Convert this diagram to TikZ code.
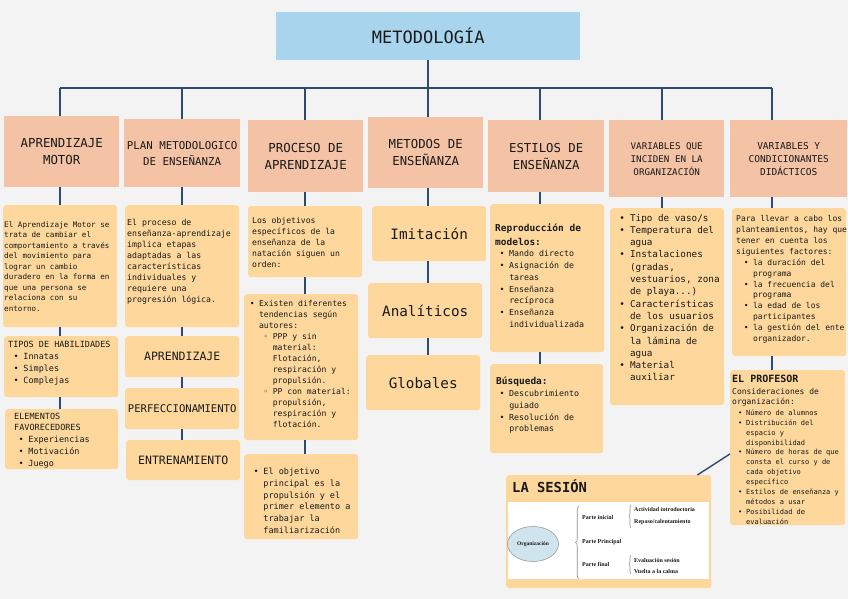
\documentclass[tikz,border=0pt]{standalone}
\usepackage{fontspec}
\setmainfont{DejaVu Sans Mono}
\newfontfamily\mono{DejaVu Sans Mono}
\newfontfamily\tnr{Liberation Serif}
\usetikzlibrary{decorations.pathreplacing,shapes.geometric,calc}
\definecolor{bgc}{HTML}{F3F3F3}
\definecolor{hdrc}{HTML}{F4C3A5}
\definecolor{boxc}{HTML}{FDD79B}
\definecolor{titc}{HTML}{A8D4EE}
\definecolor{linec}{HTML}{2E4A6F}
\definecolor{txtc}{HTML}{1A1A1A}
\definecolor{ellc}{HTML}{CFE4EC}
\definecolor{brcc}{HTML}{8E8E8E}
\newcommand\fs[2]{\fontsize{#1}{#2}\selectfont}
\newcommand\chs[1]{\hspace*{#1em}}
\newcommand\bu{\makebox[1.15em][l]{\textbullet}}
\newcommand\sbu{\makebox[1.15em][l]{◦}}
\begin{document}
\begin{tikzpicture}[x=1pt,y=-1pt,
  hdr/.style={fill=hdrc, inner sep=0pt, anchor=north west, text=txtc, align=center},
  bx/.style={fill=boxc, rounded corners=3pt, inner sep=0pt, anchor=north west, text=txtc},
  txt/.style={anchor=north west, inner sep=0pt, align=left, text=txtc},
  ltxt/.style={anchor=base west, inner sep=0pt, text=txtc},
  conn/.style={draw=linec, line width=1.8pt},
  brc/.style={draw=brcc, line width=0.6pt, decorate},
  sest/.style={anchor=base west, inner sep=0pt, text=txtc, font={\tnr\bfseries\fs{6}{7}}}]
\useasboundingbox (0,0) rectangle (848,599);
\fill[bgc] (0,0) rectangle (848,599);

% title
\node[fill=titc, minimum width=304pt, minimum height=48pt, anchor=north west, inner sep=0pt,
      font={\mono\fs{17}{20}}, text=txtc] (title) at (276,12) {METODOLOGÍA};

% headers
\node[hdr, minimum width=115pt, minimum height=71pt, font={\mono\fs{12.4}{17}}] (h1) at (4,116) {APRENDIZAJE\\MOTOR};
\node[hdr, minimum width=116pt, minimum height=68pt, font={\mono\fs{10.8}{16}}] (h2) at (124,119) {PLAN METODOLOGICO\\DE ENSEÑANZA};
\node[hdr, minimum width=115pt, minimum height=72pt, font={\mono\fs{12.4}{17}}] (h3) at (248,120) {PROCESO DE\\APRENDIZAJE};
\node[hdr, minimum width=115pt, minimum height=71pt, font={\mono\fs{12.3}{17}}] (h4) at (368,117) {METODOS DE\\ENSEÑANZA};
\node[hdr, minimum width=116pt, minimum height=72pt, font={\mono\fs{12.3}{17}}] (h5) at (488,120) {ESTILOS DE\\ENSEÑANZA};
\node[hdr, minimum width=115pt, minimum height=77pt, font={\mono\fs{9.2}{13}}] (h6) at (609,120) {VARIABLES QUE\\INCIDEN EN LA\\ORGANIZACIÓN};
\node[hdr, minimum width=117pt, minimum height=77pt, font={\mono\fs{9.5}{13}}] (h7) at (730,120) {VARIABLES Y\\CONDICIONANTES\\DIDÁCTICOS};

% column 1
\node[bx, minimum width=114pt, minimum height=122pt] (a1) at (3,205) {};
\node[txt, font={\mono\fs{7.6}{10.5}}] (ta1) at (4,219.9) {\strut El Aprendizaje Motor se\\trata de cambiar el\\comportamiento a través\\del movimiento para\\lograr un cambio\\duradero en la forma en\\que una persona se\\relaciona con su\\entorno.};
\node[bx, minimum width=114pt, minimum height=61pt] (a2) at (4,336) {};
\node[txt, font={\mono\fs{8.5}{12}}] (ta2) at (8,338.6) {\strut TIPOS DE HABILIDADES\\\chs{0.64}\bu Innatas\\\chs{0.64}\bu Simples\\\chs{0.64}\bu Complejas};
\node[bx, minimum width=113pt, minimum height=60pt] (a3) at (5,409) {};
\node[txt, font={\mono\fs{8.5}{11.75}}] (ta3) at (14,410.8) {\strut ELEMENTOS\\FAVORECEDORES\\\chs{0.52}\bu Experiencias\\\chs{0.52}\bu Motivación\\\chs{0.52}\bu Juego};

% column 2
\node[bx, minimum width=114pt, minimum height=122pt] (b1) at (125,205) {};
\node[txt, font={\mono\fs{8.2}{11}}] (tb1) at (127,217.8) {\strut El proceso de\\enseñanza-aprendizaje\\implica etapas\\adaptadas a las\\características\\individuales y\\requiere una\\progresión lógica.};
\node[bx, minimum width=114pt, minimum height=41pt, font={\mono\fs{11.5}{14}}] (b2) at (125,336) {APRENDIZAJE};
\node[bx, minimum width=114pt, minimum height=41pt, font={\mono\fs{10.6}{13}}] (b3) at (125,388) {PERFECCIONAMIENTO};
\node[bx, minimum width=114pt, minimum height=40pt, font={\mono\fs{11.5}{14}}] (b4) at (126,440) {ENTRENAMIENTO};

% column 3
\node[bx, minimum width=114pt, minimum height=71pt] (c1) at (248,206) {};
\node[txt, font={\mono\fs{8.1}{11}}] (tc1) at (252,215.7) {\strut Los objetivos\\específicos de la\\enseñanza de la\\natación siguen un\\orden:};
\node[bx, minimum width=114pt, minimum height=146pt] (c2) at (244,294) {};
\node[txt, font={\mono\fs{8.1}{11}}] (tc2) at (249.6,298.7) {\strut\bu Existen diferentes\\\chs{1.15}tendencias según\\\chs{1.15}autores:\\\chs{1.69}\sbu PPP y sin\\\chs{2.84}material:\\\chs{2.84}Flotación,\\\chs{2.84}respiración y\\\chs{2.84}propulsión.\\\chs{1.69}\sbu PP con material:\\\chs{2.84}propulsión,\\\chs{2.84}respiración y\\\chs{2.84}flotación.};
\node[bx, minimum width=114pt, minimum height=85pt] (c3) at (244,454) {};
\node[txt, font={\mono\fs{8.5}{11.7}}] (tc3) at (253.5,466.4) {\strut\bu El objetivo\\\chs{1.15}principal es la\\\chs{1.15}propulsión y el\\\chs{1.15}primer elemento a\\\chs{1.15}trabajar la\\\chs{1.15}familiarización};

% column 4
\node[bx, minimum width=114pt, minimum height=55pt, font={\mono\fs{14.3}{17}}] (d1) at (372,206) {Imitación};
\node[bx, minimum width=114pt, minimum height=55pt, font={\mono\fs{14.3}{17}}] (d2) at (368,283) {Analíticos};
\node[bx, minimum width=114pt, minimum height=55pt, font={\mono\fs{14.3}{17}}] (d3) at (366,355) {Globales};

% column 5
\node[bx, minimum width=114pt, minimum height=148pt] (e1) at (490,204) {};
\node[txt, font={\mono\bfseries\fs{9.5}{14}}] (te1h) at (495,221) {\strut Reproducción de\\modelos:};
\node[txt, font={\mono\fs{8.3}{11.8}}] (te1) at (499.5,248.2) {\strut\bu Mando directo\\\bu Asignación de\\\chs{1.15}tareas\\\bu Enseñanza\\\chs{1.15}recíproca\\\bu Enseñanza\\\chs{1.15}individualizada};
\node[bx, minimum width=113pt, minimum height=89pt] (e2) at (490,364) {};
\node[ltxt, font={\mono\bfseries\fs{9.5}{14}}] (te2h) at (496,384.9) {Búsqueda:};
\node[txt, font={\mono\fs{8.3}{11.7}}] (te2) at (499.5,388.3) {\strut\bu Descubrimiento\\\chs{1.15}guiado\\\bu Resolución de\\\chs{1.15}problemas};

% column 6
\node[bx, minimum width=114pt, minimum height=197pt] (f1) at (610,208) {};
\node[txt, font={\mono\fs{9.3}{12.3}}] (tf1) at (619.2,212.2) {\strut\bu Tipo de vaso/s\\\bu Temperatura del\\\chs{1.15}agua\\\bu Instalaciones\\\chs{1.15}(gradas,\\\chs{1.15}vestuarios, zona\\\chs{1.15}de playa...)\\\bu Características\\\chs{1.15}de los usuarios\\\bu Organización de\\\chs{1.15}la lámina de\\\chs{1.15}agua\\\bu Material\\\chs{1.15}auxiliar};

% column 7
\node[bx, minimum width=114pt, minimum height=148pt] (g1) at (732,208) {};
\node[txt, font={\mono\fs{8}{10.9}}] (tg1) at (736,213.8) {\strut Para llevar a cabo los\\planteamientos, hay que\\tener en cuenta los\\siguientes factores:\\\chs{0.95}\bu la duración del\\\chs{2.1}programa\\\chs{0.95}\bu la frecuencia del\\\chs{2.1}programa\\\chs{0.95}\bu la edad de los\\\chs{2.1}participantes\\\chs{0.95}\bu la gestión del ente\\\chs{2.1}organizador.};
\node[bx, minimum width=115pt, minimum height=155pt] (g2) at (730,370) {};
\node[ltxt, font={\mono\bfseries\fs{10}{12}}] (tg2h) at (732,382.6) {EL PROFESOR};
\node[txt, font={\mono\fs{8}{10}}] (tg2c) at (732,387.4) {\strut Consideraciones de\\organización:};
\node[txt, font={\mono\fs{7}{9.9}}] (tg2) at (737.9,408.2) {\strut\bu Número de alumnos\\\bu Distribución del\\\chs{1.15}espacio y\\\chs{1.15}disponibilidad\\\bu Número de horas de que\\\chs{1.15}consta el curso y de\\\chs{1.15}cada objetivo\\\chs{1.15}específico\\\bu Estilos de enseñanza y\\\chs{1.15}métodos a usar\\\bu Posibilidad de\\\chs{1.15}evaluación};

% la sesion
\node[bx, minimum width=205pt, minimum height=113pt] (ses) at (506,475) {};
\node[ltxt, font={\mono\bfseries\fs{13.8}{16}}] (tses) at (512,492) {LA SESIÓN};
\node[fill=white, minimum width=201pt, minimum height=77pt, anchor=north west, inner sep=0pt] (sesin) at (508,502) {};
\node[ellipse, draw=brcc, line width=0.5pt, fill=ellc, minimum width=51pt, minimum height=35pt, inner sep=0pt,
      font={\tnr\bfseries\fs{5.5}{6}}, text=txtc] (org) at (533,544) {Organización};
\coordinate (bra) at (579,579);
\coordinate (brb) at (579,506);
\draw[brc, decoration={brace, amplitude=3.5pt}] (bra) -- (brb);
\node[sest] (pi) at (582,519) {Parte inicial};
\node[sest] (pp) at (582,543) {Parte Principal};
\node[sest] (pf) at (582,566) {Parte final};
\coordinate (bc) at (631,528);
\coordinate (bd) at (631,505);
\draw[brc, decoration={brace, amplitude=2pt}] (bc) -- (bd);
\coordinate (be) at (631,574);
\coordinate (bf) at (631,555);
\draw[brc, decoration={brace, amplitude=2pt}] (be) -- (bf);
\node[sest] (ai) at (634,511) {Actividad introductoria};
\node[sest] (rc) at (634,523) {Repaso/calentamiento};
\node[sest] (es) at (634,562) {Evaluación sesión};
\node[sest] (vc) at (634,573) {Vuelta a la calma};

% connectors
\coordinate (k1) at (60,88);
\coordinate (k2) at (182,88);
\coordinate (k3) at (305,88);
\coordinate (k4) at (428,88);
\coordinate (k5) at (540,88);
\coordinate (k6) at (662,88);
\coordinate (k7) at (772,88);
\draw[conn] (title.south) -- (title.south |- k4);
\draw[conn] (k1) -- (k7);
\foreach \i in {1,...,7} {\draw[conn] (k\i) -- (k\i |- h\i.north);}
\draw[conn] (k1 |- h1.south) -- (k1 |- a1.north);
\draw[conn] (k1 |- a1.south) -- (k1 |- a2.north);
\draw[conn] (k1 |- a2.south) -- (k1 |- a3.north);
\draw[conn] (k2 |- h2.south) -- (k2 |- b1.north);
\draw[conn] (k2 |- b1.south) -- (k2 |- b2.north);
\draw[conn] (k2 |- b2.south) -- (k2 |- b3.north);
\draw[conn] (k2 |- b3.south) -- (k2 |- b4.north);
\draw[conn] (k3 |- h3.south) -- (k3 |- c1.north);
\draw[conn] (k3 |- c1.south) -- (k3 |- c2.north);
\draw[conn] (k3 |- c2.south) -- (k3 |- c3.north);
\draw[conn] (k4 |- h4.south) -- (k4 |- d1.north);
\draw[conn] (k4 |- d1.south) -- (k4 |- d2.north);
\draw[conn] (k4 |- d2.south) -- (k4 |- d3.north);
\draw[conn] (k5 |- h5.south) -- (k5 |- e1.north);
\draw[conn] (k5 |- e1.south) -- (k5 |- e2.north);
\draw[conn] (k6 |- h6.south) -- (k6 |- f1.north);
\draw[conn] (k7 |- h7.south) -- (k7 |- g1.north);
\draw[conn] (k7 |- g1.south) -- (k7 |- g2.north);
\draw[conn, line width=1.4pt] ($(g2.north west)!0.54!(g2.south west)$) -- ($(ses.north east)+(-14,0)$);
\end{tikzpicture}
\end{document}
